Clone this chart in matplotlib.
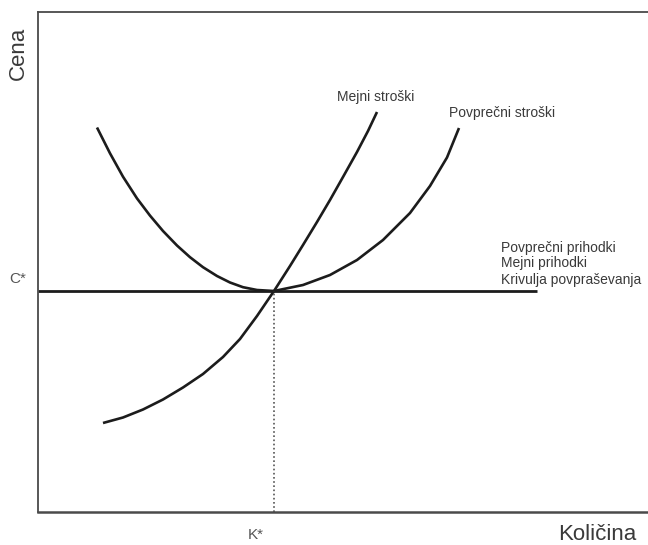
import matplotlib
matplotlib.use("Agg")
import matplotlib.pyplot as plt

plt.rcParams['font.family'] = ['Liberation Sans', 'DejaVu Sans']

# Marginal cost curve (Mejni stroški): quantity, price
mc_q = [65, 85, 105, 125, 145, 165, 185, 202, 219, 236, 252, 265, 279, 292, 305, 319, 330, 339]
mc_p = [89, 94.5, 102.5, 112.5, 124.5, 138, 155, 173, 196, 221, 246, 267, 290, 312, 335, 360, 381, 400]

# Average cost curve (Povprečni stroški)
ac_q = [59, 72, 85, 99, 112, 125, 139, 152, 165, 179, 192, 205, 219, 236,
        265, 292, 319, 345, 372, 392, 409, 421]
ac_p = [384.5, 358.7, 335.3, 313.6, 296.4, 281, 266.5, 254.8, 244.8, 236, 229.5, 224.8, 222, 221,
        227, 237, 252, 272, 299, 326, 354.5, 384]

# Equilibrium
k_star = 236
c_star = 221
demand_q = [0, 499]

label_mc = "Mejni stroški"
label_ac = "Povprečni stroški"
labels_demand = ["Povprečni prihodki", "Mejni prihodki", "Krivulja povpraševanja"]

fig = plt.figure(figsize=(6.48, 5.45), dpi=100)
ax = fig.add_axes([38/648, 33/545, 610/648, 500/545])
ax.set_xlim(0, 610)
ax.set_ylim(0, 500)
ax.set_xticks([])
ax.set_yticks([])
for s in ['left', 'top', 'bottom']:
    ax.spines[s].set_color('#4a4a4a')
    ax.spines[s].set_linewidth(1.3)
ax.spines['bottom'].set_linewidth(1.8)
ax.spines['right'].set_visible(False)

curve_color = '#1c1c1c'
ax.plot(mc_q, mc_p, color=curve_color, lw=1.9, solid_capstyle='butt', solid_joinstyle='round')
ax.plot(ac_q, ac_p, color=curve_color, lw=1.9, solid_capstyle='butt', solid_joinstyle='round')
ax.plot(demand_q, [c_star, c_star], color=curve_color, lw=2.0, solid_capstyle='butt')
ax.plot([k_star, k_star], [0, c_star], color='#555555', lw=1.2, ls=(0, (1, 1.5)))

txt = '#3a3a3a'
ax.text(338, 415, label_mc, fontsize=10, color=txt, ha='center', va='center')
ax.text(411, 399, label_ac, fontsize=10, color=txt, ha='left', va='center')
for lab, yv in zip(labels_demand, [263.7, 248.7, 232]):
    ax.text(463, yv, lab, fontsize=10, color=txt, ha='left', va='center')

ax.text(-20, 233, "C*", fontsize=11, color='#555555', ha='center', va='center', clip_on=False)
ax.text(218, -23, "K*", fontsize=11, color='#555555', ha='center', va='center', clip_on=False)
ax.text(-20, 459, "Cena", fontsize=16, color=txt, ha='center', va='center', rotation=90, clip_on=False)
ax.text(559.5, -22, "Količina", fontsize=16, color=txt, ha='center', va='center', clip_on=False)

fig.savefig("out.png", dpi=100)
